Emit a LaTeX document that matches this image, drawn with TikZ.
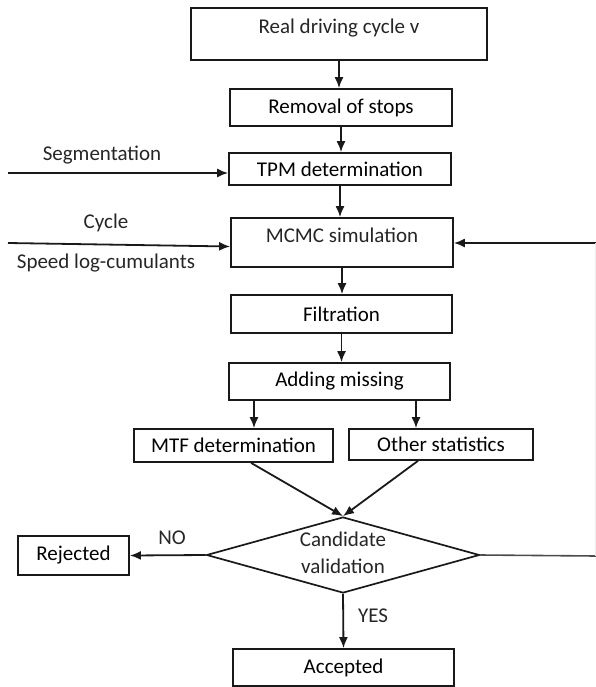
\documentclass[tikz,border=0pt]{standalone}
\usepackage{fontspec}
\setmainfont{Carlito}
\usetikzlibrary{shapes.geometric,arrows.meta,calc}
\begin{document}
\begin{tikzpicture}[x=1pt,y=-1pt,
  font=\fontsize{21}{27}\selectfont,
  box/.style={draw=black!90, line width=1.7pt, inner sep=0pt, fill=white},
  arr/.style={line width=1.8pt, black!90, -{Latex[length=11pt,width=9pt]}},
  lbl/.style={inner sep=0pt, text=black!85},
  dia/.style={draw=black!90, line width=1.7pt, diamond, aspect=3.59, inner sep=0pt, minimum width=273pt, minimum height=76pt}
]
\useasboundingbox (0,0) rectangle (596,687);
% boxes
\node[box, minimum width=296pt, minimum height=52pt, label={[lbl,yshift=6pt]center:Real driving cycle v}] (real) at (339,34) {};
\node[box, minimum width=222pt, minimum height=37pt] (rem) at (341,107.5) {Removal of stops};
\node[box, minimum width=222pt, minimum height=32pt] (tpm) at (340,169) {TPM determination};
\node[box, minimum width=222pt, minimum height=49pt, label={[lbl,yshift=7pt]center:MCMC simulation}] (mcmc) at (342,242.5) {};
\node[box, minimum width=221pt, minimum height=38pt] (filt) at (341.5,314) {Filtration};
\node[box, minimum width=221pt, minimum height=37pt] (add) at (339.5,381.5) {Adding missing};
\node[box, minimum width=199pt, minimum height=33pt] (mtf) at (233.5,445.5) {MTF determination};
\node[box, minimum width=184pt, minimum height=31pt] (oth) at (441,444.5) {Other statistics};
\node[dia] (dia) at (343,555) {};
\node[lbl, align=center] (diatxt) at (343,553) {Candidate\\validation};
\node[box, minimum width=111pt, minimum height=39pt] (rej) at (73.5,555.5) {Rejected};
\node[box, minimum width=221pt, minimum height=37pt] (acc) at (343.5,667.5) {Accepted};
% free ends
\coordinate (segin) at (8,173);
\coordinate (cycin) at (8,243);
\coordinate (rin) at (596,243);
\coordinate (rout) at (596,556);
% labels
\node[lbl] (seglbl) at (102,155) {Segmentation};
\node[lbl] (cyclbl) at (106,223) {Cycle};
\node[lbl] (spdlbl) at (106,263) {Speed log-cumulants};
\node[lbl] (nolbl) at (172,538) {NO};
\node[lbl] (yeslbl) at (373,616) {YES};
% connectors
\draw[arr] (real.south) -- (real.south |- rem.north);
\draw[arr] (rem.south) -- (rem.south |- tpm.north);
\draw[arr] (tpm.south) -- (tpm.south |- mcmc.north);
\draw[arr] (mcmc.south) -- (mcmc.south |- filt.north);
\draw[arr] (filt.south) -- (filt.south |- add.north);
\draw[arr] ([xshift=-85.5pt]add.south) -- ([xshift=-85.5pt]add.south |- mtf.north);
\draw[arr] ([xshift=76.5pt]add.south) -- ([xshift=76.5pt]add.south |- oth.north);
\draw[arr] ([xshift=17.5pt]mtf.south) -- (dia.north);
\draw[arr] ([xshift=-23pt]oth.south) -- (dia.north);
\draw[arr] (dia.west) -- (rej.east);
\draw[arr] (dia.south) -- (acc.north);
\draw[arr] (segin) -- (segin -| tpm.west);
\draw[arr] (cycin) -- ([yshift=-4pt]mcmc.west);
\draw[arr] (rin) -- (rin -| mcmc.east);
\draw[line width=1.6pt, black!70] (dia.east) -- (rout);
\draw[line width=1pt, black!7] ([xshift=-1pt]rout) -- ([xshift=-1pt]rin);
\end{tikzpicture}
\end{document}
